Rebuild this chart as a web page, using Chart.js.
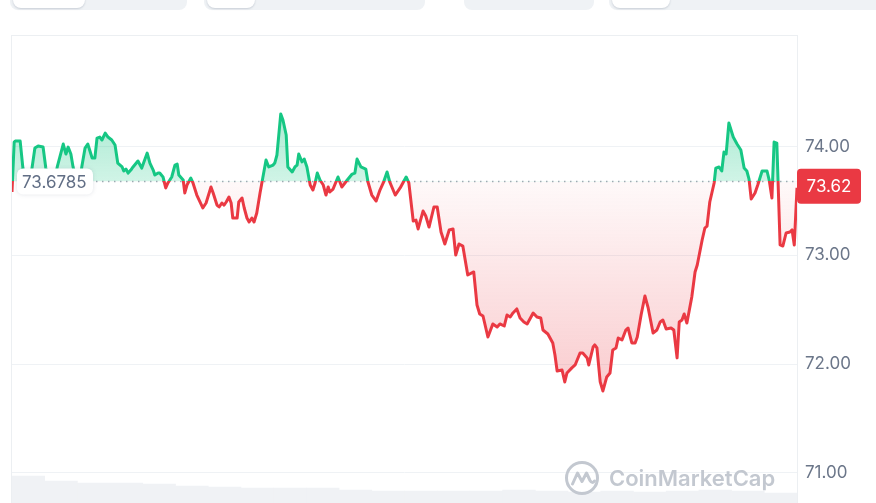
<!DOCTYPE html>
<html lang="en">
<head>
<meta charset="UTF-8">
<title>Price chart</title>
<script src="https://cdn.jsdelivr.net/npm/chart.js@4"></script>
<style>
  html, body { margin: 0; padding: 0; background: #fff; }
  body { width: 876px; height: 503px; overflow: hidden; position: relative; font-family: Inter, "Noto Sans", sans-serif; }
  .tab { position: absolute; top: -30px; height: 40px; background: #eff2f5; border-radius: 8px; }
  .tab .on { position: absolute; left: 3px; top: 0; height: 38px; background: #fff; border-radius: 8px; box-shadow: 0 1px 2px rgba(88,102,126,0.25); }
  #frame { position: absolute; left: 11px; top: 35px; width: 787px; height: 520px; box-sizing: border-box; border: 1px solid #eceff2; }
  #chart { position: absolute; left: 12px; top: 36px; }
  #mark { position: absolute; left: 564px; top: 460px; display: flex; align-items: center; gap: 9px; color: #c3c8d0; font-size: 22px; font-weight: 600; }
</style>
</head>
<body>

<!-- cropped toolbar buttons at the top -->
<div class="tab" style="left:10px;width:177px"><div class="on" style="width:72px"></div></div>
<div class="tab" style="left:204px;width:221px"><div class="on" style="width:48px"></div></div>
<div class="tab" style="left:464px;width:130px"></div>
<div class="tab" style="left:609px;width:290px"><div class="on" style="width:58px"></div></div>

<div id="frame"></div>
<canvas id="chart" width="864" height="467"></canvas>

<div id="mark">
  <svg width="36" height="36" viewBox="0 0 36 36">
    <circle cx="18" cy="18" r="15.5" fill="none" stroke="#c3c8d0" stroke-width="3"/>
    <path d="M8.5 24 L13.5 13 L18 21.5 L22.5 13 L26 20.5 Q28 24 30.5 21" fill="none" stroke="#c3c8d0" stroke-width="3" stroke-linecap="round" stroke-linejoin="round"/>
  </svg>
  <span>CoinMarketCap</span>
</div>

<script>
// minutes since the start of the 24h window
const minutes = [
  0, 4, 6, 15, 20, 24, 33, 42, 48, 57,
  62, 70, 77, 83, 94, 99, 103, 108, 112, 119,
  125, 128, 134, 139, 147, 152, 156, 161, 165, 171,
  176, 183, 189, 194, 202, 205, 209, 213, 218, 222,
  231, 238, 242, 248, 253, 259, 262, 268, 271, 277,
  282, 286, 293, 299, 303, 306, 314, 317, 321, 328,
  332, 339, 350, 356, 365, 369, 376, 380, 385, 389,
  393, 398, 402, 405, 413, 416, 422, 426, 431, 435,
  440, 444, 449, 455, 460, 466, 471, 479, 482, 486,
  493, 497, 503, 506, 514, 519, 523, 526, 532, 536,
  541, 547, 552, 556, 560, 565, 571, 576, 580, 583,
  589, 598, 605, 615, 624, 629, 633, 640, 649, 653,
  660, 668, 675, 681, 688, 693, 703, 712, 717, 723,
  728, 736, 741, 745, 754, 759, 765, 774, 780, 787,
  794, 802, 809, 814, 820, 827, 836, 847, 853, 858,
  864, 873, 882, 890, 895, 903, 908, 914, 919, 926,
  932, 939, 945, 956, 963, 970, 974, 983, 992, 996,
  1000, 1009, 1014, 1018, 1027, 1033, 1042, 1047, 1055, 1058,
  1066, 1069, 1073, 1079, 1084, 1091, 1097, 1102, 1108, 1112,
  1119, 1126, 1130, 1137, 1143, 1147, 1154, 1161, 1167, 1176,
  1183, 1189, 1194, 1200, 1209, 1214, 1220, 1224, 1229, 1233,
  1238, 1247, 1253, 1257, 1266, 1271, 1275, 1280, 1288, 1291,
  1297, 1302, 1306, 1310, 1315, 1323, 1330, 1337, 1343, 1348,
  1352, 1356, 1363, 1368, 1376, 1385, 1389, 1394, 1398, 1403,
  1409, 1414, 1420, 1427, 1431, 1435, 1440
];

const prices = [
  73.582, 74.041, 74.050, 74.050, 73.802, 73.674, 73.674, 73.986, 74.005, 73.995,
  73.802, 73.665, 73.674, 73.812, 74.023, 73.931, 73.995, 73.931, 73.812, 73.674,
  73.692, 73.812, 73.986, 74.023, 73.894, 73.894, 74.078, 74.087, 74.060, 74.124,
  74.087, 74.060, 74.014, 73.848, 73.812, 73.775, 73.793, 73.756, 73.784, 73.812,
  73.867, 73.802, 73.858, 73.940, 73.848, 73.784, 73.738, 73.756, 73.756, 73.720,
  73.619, 73.665, 73.720, 73.830, 73.839, 73.738, 73.692, 73.573, 73.646, 73.710,
  73.665, 73.554, 73.435, 73.481, 73.628, 73.573, 73.462, 73.444, 73.481, 73.462,
  73.490, 73.536, 73.481, 73.343, 73.343, 73.490, 73.527, 73.435, 73.343, 73.306,
  73.343, 73.306, 73.389, 73.573, 73.710, 73.876, 73.812, 73.830, 73.848, 73.922,
  74.300, 74.244, 74.106, 73.812, 73.766, 73.812, 73.830, 73.931, 73.858, 73.885,
  73.812, 73.646, 73.600, 73.665, 73.756, 73.692, 73.646, 73.554, 73.628, 73.582,
  73.609, 73.720, 73.628, 73.692, 73.747, 73.756, 73.885, 73.812, 73.793, 73.674,
  73.554, 73.499, 73.600, 73.665, 73.766, 73.674, 73.554, 73.619, 73.665, 73.720,
  73.665, 73.315, 73.324, 73.242, 73.407, 73.361, 73.260, 73.444, 73.444, 73.214,
  73.104, 73.233, 73.242, 73.003, 73.104, 73.085, 72.819, 72.847, 72.543, 72.461,
  72.442, 72.249, 72.369, 72.341, 72.369, 72.350, 72.451, 72.433, 72.470, 72.507,
  72.424, 72.387, 72.369, 72.470, 72.433, 72.424, 72.313, 72.277, 72.194, 72.084,
  71.937, 71.946, 71.836, 71.918, 71.965, 71.992, 72.102, 72.102, 72.057, 71.992,
  72.157, 72.176, 72.148, 71.836, 71.753, 71.882, 71.918, 72.130, 72.148, 72.240,
  72.222, 72.313, 72.332, 72.194, 72.194, 72.249, 72.451, 72.626, 72.516, 72.286,
  72.313, 72.387, 72.405, 72.323, 72.332, 72.313, 72.057, 72.387, 72.405, 72.461,
  72.378, 72.617, 72.847, 72.911, 73.141, 73.251, 73.269, 73.490, 73.665, 73.802,
  73.812, 73.775, 73.949, 73.931, 74.216, 74.087, 74.023, 73.968, 73.802, 73.775,
  73.701, 73.517, 73.573, 73.646, 73.775, 73.775, 73.692, 73.527, 74.041, 74.032,
  73.095, 73.085, 73.205, 73.214, 73.233, 73.095, 73.620
];

// hourly volume (faint bars at the bottom)
const volumeHours = [30, 90, 150, 210, 270, 330, 390, 450, 510, 570, 630, 690,
                     750, 810, 870, 930, 990, 1050, 1110, 1170, 1230, 1290, 1350, 1410];
const volumes = [2.7, 2.2, 2.0, 2.0, 1.9, 1.7, 1.6, 1.5, 1.5, 1.5, 1.3, 1.2,
                 1.2, 1.2, 1.2, 1.3, 1.2, 1.1, 1.2, 1.1, 1.2, 1.3, 1.2, 1.0];

const priceTicks = [71, 72, 73, 74];
const openPrice = 73.6785;
const lastPrice = prices[prices.length - 1];

const green = '#16c784';
const red = '#ea3943';

Chart.defaults.font.family = 'Inter, "Noto Sans", sans-serif';

// green above the open price, red below it
function splitStroke(c) {
  const chart = c.chart;
  const a = chart.chartArea;
  if (!a) return green;
  const py = chart.scales.y.getPixelForValue(openPrice);
  const s = Math.min(Math.max((py - a.top) / (a.bottom - a.top), 0), 1);
  const g = chart.ctx.createLinearGradient(0, a.top, 0, a.bottom);
  g.addColorStop(0, green);
  g.addColorStop(s, green);
  g.addColorStop(s, red);
  g.addColorStop(1, red);
  return g;
}

function fillUp(c) {
  const chart = c.chart;
  if (!chart.chartArea) return 'rgba(22,199,132,0.25)';
  const y = chart.scales.y;
  const g = chart.ctx.createLinearGradient(0, y.getPixelForValue(Math.max(...prices)), 0, y.getPixelForValue(openPrice));
  g.addColorStop(0, 'rgba(22,199,132,0.36)');
  g.addColorStop(1, 'rgba(22,199,132,0.2)');
  return g;
}

function fillDown(c) {
  const chart = c.chart;
  if (!chart.chartArea) return 'rgba(234,57,67,0.1)';
  const y = chart.scales.y;
  const g = chart.ctx.createLinearGradient(0, y.getPixelForValue(openPrice), 0, y.getPixelForValue(Math.min(...prices)));
  g.addColorStop(0, 'rgba(234,57,67,0.03)');
  g.addColorStop(1, 'rgba(234,57,67,0.26)');
  return g;
}

// dotted open-price line and the two price tags
const overlay = {
  id: 'overlay',
  beforeDatasetsDraw(chart) {
    const { ctx, chartArea: a, scales: { y } } = chart;
    const py = Math.round(y.getPixelForValue(openPrice)) + 0.5;
    ctx.save();
    ctx.strokeStyle = '#a3aab6';
    ctx.lineWidth = 1.5;
    ctx.setLineDash([1.5, 4.5]);
    ctx.beginPath();
    ctx.moveTo(a.left, py);
    ctx.lineTo(a.right, py);
    ctx.stroke();
    ctx.restore();
  },
  afterDraw(chart) {
    const { ctx, chartArea: a, scales: { y } } = chart;
    const py = y.getPixelForValue(openPrice);
    ctx.save();
    // open price tag on the left
    ctx.shadowColor = 'rgba(88,102,126,0.18)';
    ctx.shadowBlur = 4;
    ctx.fillStyle = '#fff';
    ctx.beginPath();
    ctx.roundRect(a.left + 5, py - 13, 76, 26, 6);
    ctx.fill();
    ctx.shadowBlur = 0;
    ctx.shadowColor = 'transparent';
    ctx.fillStyle = '#616e85';
    ctx.font = '17px Inter, "Noto Sans", sans-serif';
    ctx.textBaseline = 'middle';
    ctx.textAlign = 'left';
    ctx.fillText(openPrice.toString(), a.left + 10, py + 1);

    // last price tag on the right
    const ly = y.getPixelForValue(lastPrice);
    ctx.fillStyle = red;
    ctx.beginPath();
    ctx.roundRect(a.right, ly - 19, 64, 35, 4);
    ctx.fill();
    ctx.fillStyle = '#fff';
    ctx.textAlign = 'center';
    ctx.fillText(lastPrice.toFixed(2), a.right + 32, ly - 1);
    ctx.restore();
  }
};

new Chart(document.getElementById('chart'), {
  data: {
    datasets: [
      {
        type: 'line',
        data: minutes.map((m, i) => ({ x: m, y: prices[i] })),
        borderColor: splitStroke,
        borderWidth: 3,
        borderJoinStyle: 'round',
        pointRadius: 0,
        tension: 0,
        fill: { target: { value: openPrice }, above: fillUp, below: fillDown },
        yAxisID: 'y',
        order: 1
      },
      {
        type: 'bar',
        data: volumeHours.map((h, i) => ({ x: h, y: volumes[i] })),
        backgroundColor: '#f0f2f5',
        categoryPercentage: 1,
        barPercentage: 1,
        yAxisID: 'yv',
        order: 2
      }
    ]
  },
  options: {
    responsive: false,
    animation: false,
    layout: { padding: 0 },
    plugins: { legend: { display: false }, tooltip: { enabled: false } },
    scales: {
      x: { type: 'linear', min: 0, max: 1440, offset: false, display: false },
      y: {
        position: 'right',
        min: 70.723,
        max: 75.016,
        afterBuildTicks: s => { s.ticks = priceTicks.map(v => ({ value: v })); },
        afterFit: s => { s.width = 79; s.paddingTop = 0; s.paddingBottom = 0; },
        grid: { color: '#eff2f5', drawTicks: false },
        border: { display: false },
        ticks: {
          padding: 8,
          color: '#6b7689',
          font: { size: 17 },
          callback: v => v.toFixed(2)
        }
      },
      yv: { display: false, min: 0, max: 46.7 }
    }
  },
  plugins: [overlay]
});
</script>
</body>
</html>
